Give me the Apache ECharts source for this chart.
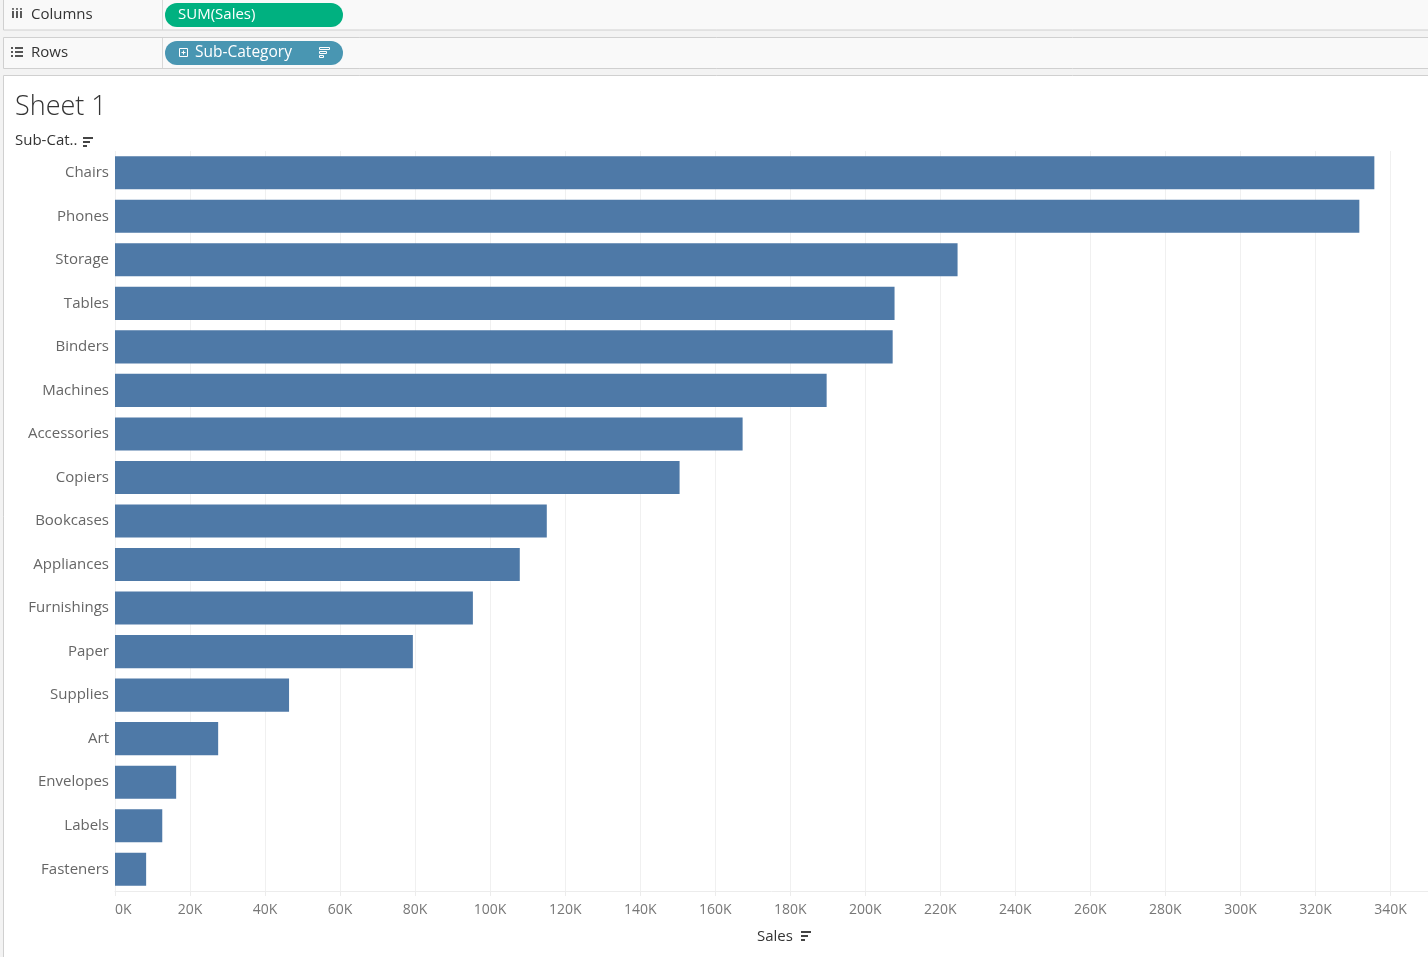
<!DOCTYPE html>
<html><head><meta charset="utf-8">
<script src="https://cdn.jsdelivr.net/npm/echarts@6/dist/echarts.min.js"></script>
<style>html,body{margin:0;padding:0;background:#f3f3f3;}#c{width:1428px;height:957px;}</style>
</head><body><div id="c"></div>
<script>
const categories = ['Chairs','Phones','Storage','Tables','Binders','Machines','Accessories','Copiers','Bookcases','Appliances','Furnishings','Paper','Supplies','Art','Envelopes','Labels','Fasteners'];
const sales = [335700,331700,224600,207800,207300,189700,167300,150500,115100,107900,95400,79400,46400,27500,16300,12600,8300];
const tickValues = [0,20000,40000,60000,80000,100000,120000,140000,160000,180000,200000,220000,240000,260000,280000,300000,320000,340000];

const FONT = '"Open Sans","Noto Sans",sans-serif';
const chart = echarts.init(document.getElementById('c'), null, {renderer:'canvas'});

function sortIcon(x, y, color){
  return [
    {type:'rect', shape:{x:x, y:y, width:10, height:2}, style:{fill:color}},
    {type:'rect', shape:{x:x, y:y+4, width:7, height:2}, style:{fill:color}},
    {type:'rect', shape:{x:x, y:y+8, width:4, height:2}, style:{fill:color}}
  ];
}
function txt(x, y, s, font, color){
  return {type:'text', style:{x:x, y:y, text:s, font:font, fill:color, verticalAlign:'middle', align:'left'}};
}

const graphics = [
  // shelves
  {type:'rect', shape:{x:3.5,y:-1,width:1430,height:31}, style:{fill:'#f9f9f9', stroke:'#d0d0d0', lineWidth:1}},
  {type:'line', shape:{x1:162.5,y1:0,x2:162.5,y2:30}, style:{stroke:'#d8d8d8', lineWidth:1}},
  {type:'rect', shape:{x:3.5,y:37.5,width:1430,height:31}, style:{fill:'#f9f9f9', stroke:'#d0d0d0', lineWidth:1}},
  {type:'line', shape:{x1:162.5,y1:38,x2:162.5,y2:68}, style:{stroke:'#d8d8d8', lineWidth:1}},
  // sheet area
  {type:'rect', shape:{x:3.5,y:75.5,width:1430,height:890}, style:{fill:'#ffffff', stroke:'#d0d0d0', lineWidth:1}, z:-10},
  // columns icon
  txt(11, 14, 'iii', 'bold 13px '+FONT, '#555'),
  txt(31, 15, 'Columns', '15px '+FONT, '#333'),
  // rows icon
  {type:'rect', shape:{x:11,y:47,width:2,height:2}, style:{fill:'#555'}},
  {type:'rect', shape:{x:11,y:51,width:2,height:2}, style:{fill:'#555'}},
  {type:'rect', shape:{x:11,y:55,width:2,height:2}, style:{fill:'#555'}},
  {type:'rect', shape:{x:15,y:47,width:8,height:2}, style:{fill:'#555'}},
  {type:'rect', shape:{x:15,y:51,width:8,height:2}, style:{fill:'#555'}},
  {type:'rect', shape:{x:15,y:55,width:8,height:2}, style:{fill:'#555'}},
  txt(31, 53, 'Rows', '15px '+FONT, '#333'),
  // pills
  {type:'rect', shape:{x:165,y:3,width:178,height:24,r:12}, style:{fill:'#00b180'}},
  txt(178, 15, 'SUM(Sales)', '15px '+FONT, '#ffffff'),
  {type:'rect', shape:{x:165,y:41,width:178,height:24,r:12}, style:{fill:'#4996b2'}},
  {type:'rect', shape:{x:179.5,y:48.5,width:8,height:8}, style:{fill:'none', stroke:'#ffffff', lineWidth:1}},
  {type:'line', shape:{x1:181.5,y1:52.5,x2:185.5,y2:52.5}, style:{stroke:'#ffffff', lineWidth:1}},
  {type:'line', shape:{x1:183.5,y1:50.5,x2:183.5,y2:54.5}, style:{stroke:'#ffffff', lineWidth:1}},
  txt(195, 53, 'Sub-Category', '15.5px '+FONT, '#ffffff'),
  {type:'rect', shape:{x:319.5,y:47.5,width:10,height:2}, style:{fill:'none', stroke:'#ffffff', lineWidth:1}},
  {type:'rect', shape:{x:319.5,y:51.5,width:7,height:2}, style:{fill:'none', stroke:'#ffffff', lineWidth:1}},
  {type:'rect', shape:{x:319.5,y:55.5,width:4,height:2}, style:{fill:'none', stroke:'#ffffff', lineWidth:1}},
  // titles
  txt(15, 107, 'Sheet 1', '300 27px '+FONT, '#333'),
  txt(15, 141, 'Sub-Cat..', '15px '+FONT, '#333'),
  txt(757, 937, 'Sales', '15px '+FONT, '#333')
].concat(sortIcon(83,137,'#444')).concat(sortIcon(801,931,'#444'));

chart.setOption({
  backgroundColor:'transparent',
  animation:false,
  grid:{left:115, right:0, top:151, bottom:66, containLabel:false},
  xAxis:{
    type:'value', min:0, max:350000, interval:20000,
    axisLine:{show:true, lineStyle:{color:'#ececec'}},
    axisTick:{show:true, length:5, lineStyle:{color:'#ececec'}},
    splitLine:{show:true, lineStyle:{color:'#f0f0f0', width:1}},
    axisLabel:{
      color:'#777', fontSize:14, fontFamily:FONT, margin:12,
      showMaxLabel:false, alignMinLabel:'left',
      formatter:function(v){ return tickValues.indexOf(v) >= 0 ? (v/1000)+'K' : ''; }
    }
  },
  yAxis:{
    type:'category', data:categories, inverse:true,
    axisLine:{show:false}, axisTick:{show:false},
    axisLabel:{color:'#666', fontSize:15, fontFamily:FONT, margin:6, padding:[3,0,0,0]}
  },
  series:[{
    type:'bar', data:sales, barCategoryGap:'24%',
    itemStyle:{color:'#4e79a7'}
  }],
  graphic:graphics
});
</script></body></html>
